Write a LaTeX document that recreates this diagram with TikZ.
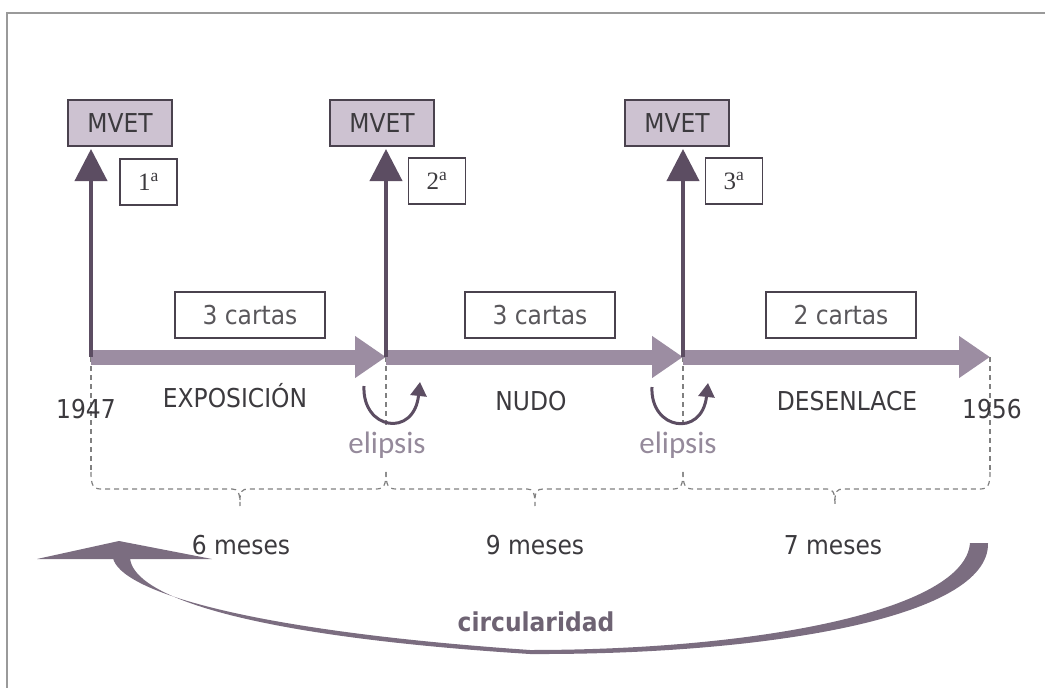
\documentclass[tikz,border=0pt]{standalone}
\usepackage{fontspec}
\setmainfont{DejaVu Sans}[FakeStretch=0.9]
\newfontfamily\calfont{Carlito}
\newfontfamily\serifnum{Liberation Serif}
\usetikzlibrary{arrows.meta}
\definecolor{txtc}{HTML}{3C3A3E}
\definecolor{boxline}{HTML}{4A424E}
\definecolor{mvetfill}{HTML}{CDC2D1}
\definecolor{barc}{HTML}{9C8DA2}
\definecolor{darkc}{HTML}{5C4D62}
\definecolor{dashc}{HTML}{808080}
\definecolor{elipc}{HTML}{958A9B}
\definecolor{circc}{HTML}{7B6D80}
\definecolor{circtxt}{HTML}{6E6373}
\definecolor{framec}{HTML}{9A9A9A}
\begin{document}
\begin{tikzpicture}[x=1pt,y=-1pt,
  txt/.style={font=\fontsize{26}{30}\selectfont, text=txtc, inner sep=0},
  mvet/.style={draw=boxline, fill=mvetfill, line width=2pt, minimum width=104pt, minimum height=46pt, inner sep=0, font=\fontsize{26}{30}\selectfont, text=txtc},
  ordbox/.style={draw=boxline, fill=white, line width=1.6pt, minimum width=57pt, minimum height=46pt, inner sep=0, font=\serifnum\fontsize{25}{30}\selectfont, text=txtc},
  cartas/.style={draw=boxline, line width=1.6pt, minimum width=150pt, minimum height=46pt, inner sep=0, font=\fontsize{26}{30}\selectfont, text=txtc!85},
  bar/.style={draw=barc, line width=15pt, -{Triangle[length=31pt,width=40pt]}},
  vup/.style={draw=darkc, line width=4pt, -{Triangle[length=32pt,width=32pt]}},
  elip/.style={draw=darkc, line width=3pt, -{Triangle[length=14pt,width=16pt]}},
  dsh/.style={draw=dashc, line width=1.2pt, dash pattern=on 5pt off 4pt},
  eliptxt/.style={font=\calfont\fontsize{31}{34}\selectfont, text=elipc, inner sep=0},
  ]
\useasboundingbox (0,0) rectangle (1045,688);
% frame
\draw[framec, line width=1.3pt] (7,688) -- (7,13) -- (1045,13);

% junction coordinates
\coordinate (j0) at (91,357);
\coordinate (j1) at (386,357);
\coordinate (j2) at (683,357);
\coordinate (j3) at (990,357);
\coordinate (b0) at (91,472);
\coordinate (b3) at (990,472);
\coordinate (d1) at (386,428);
\coordinate (d2) at (683,428);

% dashed guides and braces
\draw[dsh] (j0) -- (b0);
\draw[dsh] (j3) -- (b3);
\draw[dsh] (j1) -- (d1);
\draw[dsh] (j2) -- (d2);
\foreach \xa/\xm/\xb in {91/240/386, 386/535/683, 683/835/990}{
  \draw[dsh] (\xa,472) .. controls (\xa,485) and (\xa+2,489) .. (\xa+10,489)
    -- (\xm-8,489) .. controls (\xm-2,489) and (\xm,492) .. (\xm,506);
  \draw[dsh] (\xb,472) .. controls (\xb,485) and (\xb-2,489) .. (\xb-10,489)
    -- (\xm+8,489) .. controls (\xm+2,489) and (\xm,492) .. (\xm,500);
}

% boxes
\node[mvet] (m1) at (120,123) {MVET};
\node[mvet] (m2) at (382,123) {MVET};
\node[mvet] (m3) at (677,123) {MVET};
\node[ordbox] (o1) at (148.5,182) {1\textsuperscript{a}};
\node[ordbox] (o2) at (437,181) {2\textsuperscript{a}};
\node[ordbox] (o3) at (734,181) {3\textsuperscript{a}};
\node[cartas] (c1) at (250,315) {3 cartas};
\node[cartas] (c2) at (540,315) {3 cartas};
\node[cartas] (c3) at (841,315) {2 cartas};

% timeline bars
\draw[bar] (j0) -- (j1);
\draw[bar] (j1) -- (j2);
\draw[bar] (j2) -- (j3);

% vertical arrows
\draw[vup, shorten >=2pt] (j0) -- (j0 |- m1.south);
\draw[vup, shorten >=2pt] (j1) -- (j1 |- m2.south);
\draw[vup, shorten >=2pt] (j2) -- (j2 |- m3.south);

% labels
\node[txt] (y1) at (86,409) {1947};
\node[txt] (ex) at (235,396) {EXPOSICIÓN};
\node[txt] (nu) at (531,401) {NUDO};
\node[txt] (de) at (847,401) {DESENLACE};
\node[txt] (y2) at (992,409) {1956};

% elipsis loops
\coordinate (e1a) at (364,386);
\coordinate (e1b) at (420,382);
\coordinate (e2a) at (652,387);
\coordinate (e2b) at (708,383);
\draw[elip] (e1a) .. controls (362,430) and (414,438) .. (e1b);
\draw[elip] (e2a) .. controls (650,430) and (702,438) .. (e2b);
\node[eliptxt] (el1) at (387,445) {elipsis};
\node[eliptxt] (el2) at (678,445) {elipsis};

% durations
\node[txt] (t1) at (241,545) {6 meses};
\node[txt] (t2) at (535,545) {9 meses};
\node[txt] (t3) at (833,545) {7 meses};

% circularity arrow
\fill[circc] (37,559) -- (119,541) -- (212,559) -- cycle;
\fill[circc] (113,558) .. controls (120,590) and (240,630) .. (530,650)
  .. controls (760,650) and (965,610) .. (970,543)
  -- (988,543)
  .. controls (990,618) and (765,655) .. (530,654)
  .. controls (245,636) and (133,596) .. (130,558) -- cycle;
\node[font=\bfseries\fontsize{26}{30}\selectfont, text=circtxt, inner sep=0] (ci) at (536,622) {circularidad};
\end{tikzpicture}
\end{document}
